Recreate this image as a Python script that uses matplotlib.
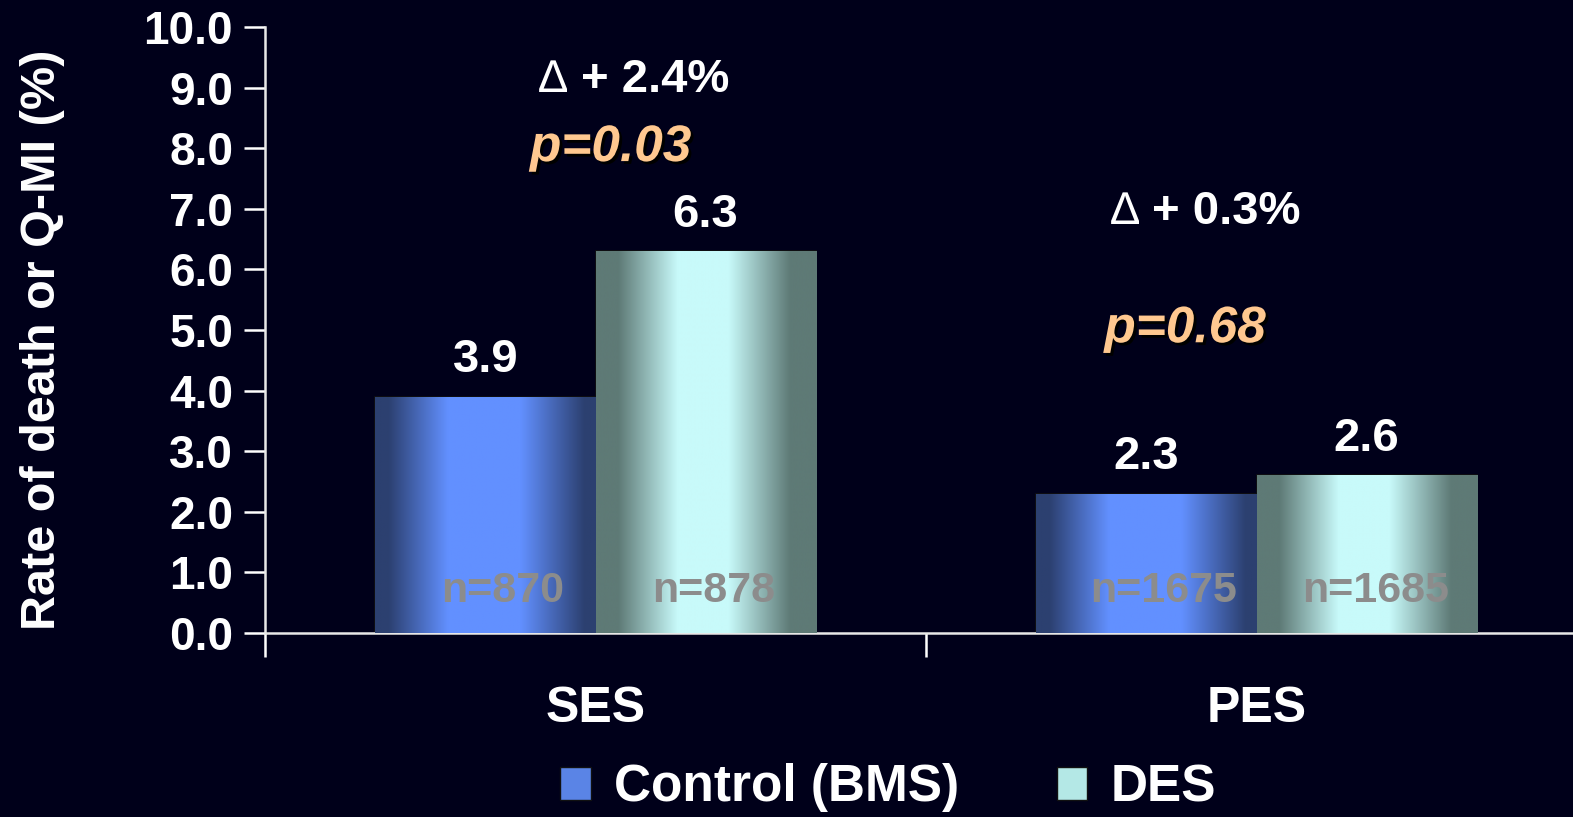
import numpy as np
import matplotlib
matplotlib.use("Agg")
import matplotlib.pyplot as plt
from matplotlib.colors import LinearSegmentedColormap
from matplotlib.patches import Patch
import matplotlib.patheffects as pe

plt.rcParams["font.family"] = ["Liberation Sans", "DejaVu Sans"]
plt.rcParams["font.weight"] = "bold"

# data
groups = ["SES", "PES"]
series = ["Control (BMS)", "DES"]
control_rate = [3.9, 2.3]
des_rate = [6.3, 2.6]
control_n = ["n=870", "n=1675"]
des_n = ["n=878", "n=1685"]
delta_text = ["+ 2.4%", "+ 0.3%"]
p_text = ["p=0.03", "p=0.68"]
yticks = np.arange(0, 10.01, 1.0)

BG = "#00001a"
bar_styles = {
    "Control (BMS)": ("#2c4070", "#6290ff", [0.0, 0.06, 0.33, 0.66, 0.95, 1.0]),
    "DES": ("#5e7a76", "#c8fafa", [0.0, 0.1, 0.37, 0.6, 0.88, 1.0]),
}


def shaded_bar(ax, x, h, w, dark, bright, stops):
    bar = ax.bar(x, h, w, color=bright, edgecolor="#111111", linewidth=1.2, zorder=2)[0]
    cmap = LinearSegmentedColormap.from_list(
        "shade", list(zip(stops, [dark, dark, bright, bright, dark, dark])))
    grad = cmap(np.linspace(0, 1, 256))[None, :, :]
    im = ax.imshow(grad, extent=(x - w / 2, x + w / 2, 0, h), aspect="auto",
                   interpolation="bilinear", zorder=3)
    im.set_clip_path(bar)
    return bar


fig = plt.figure(figsize=(15.73, 8.17), dpi=100, facecolor=BG)
ax = fig.add_axes([265 / 1573, 1 - 633 / 817, (1587 - 265) / 1573, (633 - 27) / 817])
ax.set_facecolor(BG)

x = np.arange(len(groups))
w = 0.333
n_shift = [0.026, 0.013]
for i in range(len(groups)):
    xc, xd = x[i] - w / 2, x[i] + w / 2
    shaded_bar(ax, xc, control_rate[i], w, *bar_styles["Control (BMS)"])
    shaded_bar(ax, xd, des_rate[i], w, *bar_styles["DES"])
    ax.text(xc, control_rate[i] + 0.6, f"{control_rate[i]:.1f}", ha="center", va="center",
            color="white", fontsize=34, zorder=5)
    ax.text(xd, des_rate[i] + 0.6, f"{des_rate[i]:.1f}", ha="center", va="center",
            color="white", fontsize=34, zorder=5)
    ax.text(xc + n_shift[0], 0.7, control_n[i], ha="center", va="center", color="#8c8c8c",
            fontsize=31, zorder=5)
    ax.text(xd + n_shift[1], 0.7, des_n[i], ha="center", va="center", color="#8c8c8c",
            fontsize=31, zorder=5)

# delta and p-value annotations
delta_pos = [(-0.085, 9.12), (0.779, 6.94)]
p_pos = [(0.023, 8.01), (0.892, 5.02)]
shadow = [pe.withSimplePatchShadow(offset=(2, -2), shadow_rgbFace="black", alpha=1.0)]
for i in range(len(groups)):
    dx, dy = delta_pos[i]
    ax.text(dx, dy, "\u2206", ha="left", va="center", color="white", fontsize=33,
            fontweight="normal", zorder=5)
    ax.annotate(delta_text[i], (dx, dy), xytext=(30, 0), textcoords="offset points",
                ha="left", va="center", color="white", fontsize=34, zorder=5)
    ax.text(*p_pos[i], p_text[i], ha="center", va="center", color="#ffc890", fontsize=37,
            style="italic", zorder=5, path_effects=shadow)

ax.set_xlim(-0.5, 1.5)
ax.set_ylim(0, 10)
ax.set_yticks(yticks)
ax.set_yticklabels([f"{v:.1f}" for v in yticks])
ax.set_xticks(x)
ax.set_xticklabels(groups)
ax.set_xticks([-0.5, 0.5, 1.5], minor=True)
ax.tick_params(axis="y", colors="white", labelsize=33, length=15, width=1.8, pad=8)
ax.tick_params(axis="x", which="major", length=0, colors="white", labelsize=36, pad=38)
ax.tick_params(axis="x", which="minor", length=17, width=1.8, color="white")
for lab in ax.get_xticklabels() + ax.get_yticklabels():
    lab.set_fontweight("bold")

for side in ["top", "right"]:
    ax.spines[side].set_visible(False)
for side in ["left", "bottom"]:
    ax.spines[side].set_color("#e8e8e8")
    ax.spines[side].set_linewidth(1.8)

ax.set_ylabel("Rate of death or Q-MI (%)", color="white", fontsize=35, fontweight="bold")
ax.yaxis.set_label_coords(-(265 - 65) / (1587 - 265), 0.484)

handles = [Patch(facecolor="#5a84e6", edgecolor="#111111"),
           Patch(facecolor="#b4e8e6", edgecolor="#111111")]
fig.legend(handles, series, loc="center", bbox_to_anchor=(888 / 1573, 1 - 788 / 817),
           ncol=2, frameon=False, labelcolor="white", handlelength=0.6,
           handleheight=0.6, handletextpad=0.45, columnspacing=1.9,
           borderpad=0.0, prop={"weight": "bold", "size": 37})

fig.savefig("out.png", dpi=100, facecolor=BG)
